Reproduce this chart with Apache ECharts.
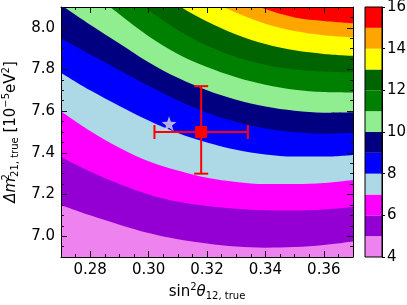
<!DOCTYPE html>
<html><head><meta charset="utf-8">
<script src="https://cdn.jsdelivr.net/npm/echarts@6/dist/echarts.min.js"></script>
<style>html,body{margin:0;padding:0;background:#fff}#c{width:407px;height:305px}</style>
</head><body><div id="c"></div>
<script>
// sin^2 theta12 sample positions
const xs = [0.27, 0.28, 0.29, 0.30, 0.31, 0.32, 0.33, 0.34, 0.35, 0.36, 0.37];
// contour boundaries (Delta m^2_21 in 1e-5 eV^2), one per level
const level5  = [7.15, 7.10, 7.055, 7.015, 6.985, 6.965, 6.95, 6.945, 6.948, 6.958, 6.975];
const level6  = [7.38, 7.31, 7.25, 7.20, 7.165, 7.145, 7.132, 7.125, 7.123, 7.128, 7.14];
const level7  = [7.60, 7.505, 7.425, 7.36, 7.315, 7.28, 7.26, 7.25, 7.25, 7.255, 7.27];
const level8  = [7.785, 7.70, 7.625, 7.555, 7.495, 7.45, 7.415, 7.392, 7.382, 7.382, 7.39];
const level9  = [7.95, 7.872, 7.797, 7.722, 7.652, 7.592, 7.548, 7.517, 7.499, 7.492, 7.497];
const level10 = [8.11, 8.015, 7.925, 7.835, 7.76, 7.70, 7.655, 7.622, 7.602, 7.593, 7.595];
const level11 = [8.29, 8.175, 8.065, 7.96, 7.875, 7.812, 7.763, 7.727, 7.703, 7.692, 7.69];
const level12 = [8.41, 8.30, 8.19, 8.085, 7.99, 7.915, 7.86, 7.823, 7.80, 7.79, 7.785];
const level13 = [8.55, 8.44, 8.33, 8.215, 8.11, 8.03, 7.968, 7.922, 7.892, 7.875, 7.866];
const level14 = [8.62, 8.51, 8.40, 8.29, 8.20, 8.135, 8.073, 8.02, 7.985, 7.965, 7.955];
const level15 = [8.65, 8.56, 8.47, 8.38, 8.29, 8.21, 8.145, 8.09, 8.05, 8.033, 8.022];
const levelValues = [5, 6, 7, 8, 9, 10, 11, 12, 13, 14, 15];
// colour bands 4-5, 5-6, ..., 15-16
const bandEdges = [4, 5, 6, 7, 8, 9, 10, 11, 12, 13, 14, 15, 16];
const bandColors = ['#ee82ee', '#9400d3', '#ff00ff', '#add8e6', '#0000ff', '#000080',
                    '#90ee90', '#008000', '#006400', '#ffff00', '#ffa500', '#ff0000'];
// tick labels
const xTicks = [0.28, 0.30, 0.32, 0.34, 0.36];
const yTicks = [7.0, 7.2, 7.4, 7.6, 7.8, 8.0];
const cbTicks = [4, 6, 8, 10, 12, 14, 16];
// best fit with errors, and true point
const bestFit = [0.318, 7.50];
const xErr = [0.302, 0.334];
const yErr = [7.30, 7.72];
const truePoint = [0.307, 7.54];

const levels = [level5, level6, level7, level8, level9, level10, level11, level12, level13, level14, level15];
const FONT = 'DejaVu Sans';
const TICK = '#111';

const chart = echarts.init(document.getElementById('c'), null, {renderer: 'canvas'});

const series = [];
for (let i = levels.length - 1; i >= 0; i--) {
  const lv = levelValues[i];
  series.push({
    type: 'line', xAxisIndex: 0, yAxisIndex: 0,
    data: xs.map((x, j) => [x, levels[i][j]]),
    smooth: 0.35, showSymbol: false, symbol: 'none', silent: true,
    lineStyle: {width: 0},
    areaStyle: {color: bandColors[bandEdges.indexOf(lv) - 1], opacity: 1, origin: 'start'},
    z: 2 + (levels.length - i) * 0.01,
    animation: false
  });
}
series.push({
  type: 'scatter', xAxisIndex: 0, yAxisIndex: 0, data: [truePoint],
  symbol: 'path://M0,-10 L2.35,-3.24 L9.51,-3.09 L3.8,1.24 L5.88,8.09 L0,4 L-5.88,8.09 L-3.8,1.24 L-9.51,-3.09 L-2.35,-3.24 Z',
  symbolSize: 15, itemStyle: {color: '#dcdcdc'}, z: 5, animation: false
});
series.push({
  type: 'custom', xAxisIndex: 0, yAxisIndex: 0,
  data: [[bestFit[0], bestFit[1], xErr[0], xErr[1], yErr[0], yErr[1]]],
  renderItem: function (params, api) {
    const c = api.coord([api.value(0), api.value(1)]);
    const l = api.coord([api.value(2), api.value(1)]);
    const r = api.coord([api.value(3), api.value(1)]);
    const b = api.coord([api.value(0), api.value(4)]);
    const t = api.coord([api.value(0), api.value(5)]);
    const st = {stroke: '#ff0000', lineWidth: 2};
    const cap = 7, sq = 12;
    return {type: 'group', children: [
      {type: 'line', shape: {x1: l[0], y1: l[1], x2: r[0], y2: r[1]}, style: st},
      {type: 'line', shape: {x1: b[0], y1: b[1], x2: t[0], y2: t[1]}, style: st},
      {type: 'line', shape: {x1: l[0], y1: l[1] - cap, x2: l[0], y2: l[1] + cap}, style: st},
      {type: 'line', shape: {x1: r[0], y1: r[1] - cap, x2: r[0], y2: r[1] + cap}, style: st},
      {type: 'line', shape: {x1: t[0] - cap, y1: t[1], x2: t[0] + cap, y2: t[1]}, style: st},
      {type: 'line', shape: {x1: b[0] - cap, y1: b[1], x2: b[0] + cap, y2: b[1]}, style: st},
      {type: 'rect', shape: {x: c[0] - sq / 2, y: c[1] - sq / 2, width: sq, height: sq}, style: {fill: '#ff0000'}}
    ]};
  },
  z: 6, animation: false
});
// colour bar: transparent base up to the first edge, then one block per band
series.push({
  type: 'bar', xAxisIndex: 4, yAxisIndex: 4, stack: 'cb',
  data: [bandEdges[0]], barWidth: '100%',
  itemStyle: {color: 'rgba(0,0,0,0)'}, silent: true, animation: false
});
for (let k = 0; k < bandColors.length; k++) {
  series.push({
    type: 'bar', xAxisIndex: 4, yAxisIndex: 4, stack: 'cb',
    data: [bandEdges[k + 1] - bandEdges[k]], barWidth: '100%',
    itemStyle: {color: bandColors[k]}, silent: true, animation: false
  });
}

const lab = {fontFamily: FONT, fontSize: 15, color: '#000'};
const richName = {
  n: {fontFamily: FONT, fontSize: 15, color: '#000'},
  it: {fontFamily: FONT, fontSize: 15, fontStyle: 'italic', color: '#000'},
  sup: {fontFamily: FONT, fontSize: 10, color: '#000', padding: [0, 0, 9, 0]},
  supz: {fontFamily: FONT, fontSize: 10, color: '#000', padding: [0, 0, 9, 0], width: 1},
  sub: {fontFamily: FONT, fontSize: 10, color: '#000', padding: [8, 0, 0, 0]}
};
function majorAxis(pos, vals, showLabel, fmt, extra) {
  return Object.assign({
    type: 'value', gridIndex: 0, position: pos, z: 10,
    axisLine: {show: true, onZero: false, lineStyle: {color: '#000', width: 1}},
    axisTick: {show: true, inside: true, length: 6, customValues: vals, lineStyle: {color: TICK}},
    axisLabel: Object.assign({show: showLabel, customValues: vals, formatter: fmt, margin: 6}, lab),
    splitLine: {show: false}
  }, extra);
}
function minorAxis(pos, interval, extra) {
  return Object.assign({
    type: 'value', gridIndex: 0, position: pos, z: 10, interval: interval,
    axisLine: {show: false}, axisLabel: {show: false}, splitLine: {show: false},
    axisTick: {show: true, inside: true, length: 3, lineStyle: {color: TICK}}
  }, extra);
}
const xr = {min: 0.27, max: 0.37};
const yr = {min: 6.9, max: 8.1};
const fx = v => v.toFixed(2), fy = v => v.toFixed(1);

const option = {
  animation: false,
  backgroundColor: '#fff',
  grid: [
    {left: 61, top: 7, width: 292, height: 250, show: true, backgroundColor: bandColors[bandColors.length - 1], borderWidth: 0, outerBoundsMode: 'none', containLabel: false},
    {left: 365, top: 7, width: 17, height: 250, outerBoundsMode: 'none', containLabel: false}
  ],
  xAxis: [
    majorAxis('bottom', xTicks, true, fx, Object.assign({
      name: '{n|sin}{sup|2}{it|θ}{sub|12, true}', nameLocation: 'middle', nameGap: 24,
      nameTextStyle: {rich: richName}
    }, xr)),
    minorAxis('bottom', 0.005, xr),
    majorAxis('top', xTicks, false, fx, xr),
    minorAxis('top', 0.005, xr),
    {type: 'category', gridIndex: 1, data: ['cb'], show: false}
  ],
  yAxis: [
    majorAxis('left', yTicks, true, fy, Object.assign({
      name: '{it|Δm}{supz|2}{sub|21, true}{n| [10}{sup|−5}{n|eV}{sup|2}{n|]}', nameLocation: 'middle', nameGap: 40, nameRotate: 90,
      nameTextStyle: {rich: richName}
    }, yr)),
    minorAxis('left', 0.05, yr),
    majorAxis('right', yTicks, false, fy, yr),
    minorAxis('right', 0.05, yr),
    {type: 'value', gridIndex: 1, position: 'right', min: 4, max: 16, interval: 2, z: 10,
     axisLine: {show: true, lineStyle: {color: '#000'}},
     axisTick: {show: true, inside: false, length: 3, lineStyle: {color: '#000'}},
     axisLabel: Object.assign({margin: 5}, lab),
     splitLine: {show: false}}
  ],
  graphic: [
    {type: 'rect', shape: {x: 365, y: 7, width: 17, height: 250}, style: {fill: 'none', stroke: '#000', lineWidth: 1}, z: 100}
  ],
  series: series
};
chart.setOption(option);
</script></body></html>
